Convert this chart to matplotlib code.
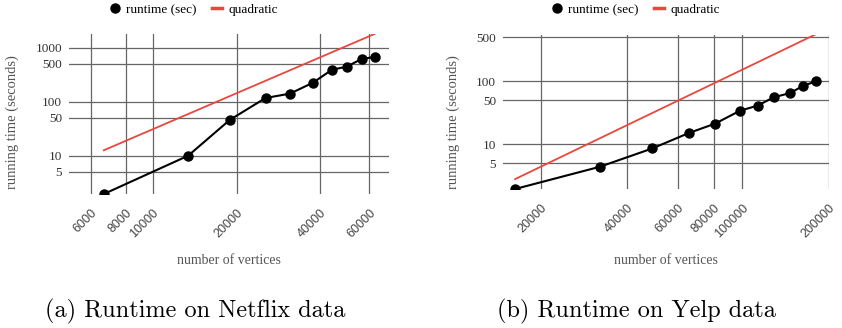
import numpy as np
import matplotlib
matplotlib.use('Agg')
import matplotlib.pyplot as plt
from matplotlib.lines import Line2D

# (a) Netflix
netflix_n = [6670, 13400, 18900, 25400, 31100, 37600, 44000, 49700, 56200, 62600]
netflix_t = [1.95, 10, 46, 117, 141, 225, 391, 445, 618, 672]
netflix_quad_n = [6670, 62600]
netflix_quad_t = [12.6, 1800]
netflix_xticks = [6000, 8000, 10000, 20000, 40000, 60000]
netflix_yticks = [5, 10, 50, 100, 500, 1000]

# (b) Yelp
yelp_n = [16300, 32100, 48800, 65300, 80400, 98400, 113000, 128600, 146900, 162100, 180300]
yelp_t = [1.95, 4.4, 8.6, 15.1, 21.2, 34.2, 41, 55.7, 65.2, 84.2, 100]
yelp_quad_n = [16300, 180300]
yelp_quad_t = [2.8, 560]
yelp_xticks = [20000, 40000, 60000, 80000, 100000, 200000]
yelp_yticks = [5, 10, 50, 100, 500]

red = '#e8473d'
grid_c = '#666666'
serif = 'Liberation Serif'
sans = 'Liberation Sans'

W, H = 842, 328
fig = plt.figure(figsize=(W / 100, H / 100), dpi=100)


def px_axes(x0, y0, x1, y1):
    return fig.add_axes([x0 / W, 1 - y1 / H, (x1 - x0) / W, (y1 - y0) / H])


def draw(ax, n, t, qn, qt, xticks, yticks, xlim, ylim):
    ax.set_xscale('log')
    ax.set_yscale('log')
    ax.plot(qn, qt, color=red, lw=1.3, zorder=3)
    ax.plot(n, t, color='black', lw=1.5, marker='o', ms=6.5, zorder=4)
    ax.set_xlim(*xlim)
    ax.set_ylim(*ylim)
    ax.xaxis.set_minor_locator(matplotlib.ticker.NullLocator())
    ax.yaxis.set_minor_locator(matplotlib.ticker.NullLocator())
    ax.set_xticks(xticks)
    ax.set_xticklabels([str(v) for v in xticks], rotation=45, ha='right',
                       va='top', rotation_mode='anchor', fontfamily=sans,
                       fontsize=9, color='#444444')
    ax.set_yticks(yticks)
    ax.set_yticklabels([str(v) for v in yticks], fontfamily=serif,
                       fontsize=9.5, color='#333333')
    ax.tick_params(length=0, axis='x', pad=9)
    ax.tick_params(length=0, axis='y', pad=5)
    ax.grid(True, color=grid_c, lw=0.9)
    ax.set_axisbelow(True)
    for s in ax.spines.values():
        s.set_visible(False)


ax1 = px_axes(69, 34.3, 389, 194)
draw(ax1, netflix_n, netflix_t, netflix_quad_n, netflix_quad_t,
     netflix_xticks, netflix_yticks, (5000, 70500), (1.95, 1770))
ax2 = px_axes(503, 35, 829, 189)
draw(ax2, yelp_n, yelp_t, yelp_quad_n, yelp_quad_t,
     yelp_xticks, yelp_yticks, (14800, 200000), (1.95, 543))

handles = [Line2D([], [], color='black', marker='o', ls='none', ms=6.5),
           Line2D([], [], color=red, lw=2.5)]
labels = ['runtime (sec)', 'quadratic']
for cx in [194, 636]:
    fig.legend(handles, labels, loc='center', bbox_to_anchor=(cx / W, 1 - 10 / H),
               ncol=2, frameon=False, prop={'family': serif, 'size': 9.5},
               handlelength=0.7, handletextpad=0.5, columnspacing=1.2)

for cy_x, cx in [(12, 229), (453, 666)]:
    fig.text(cy_x / W, 1 - 122 / H, 'running time (seconds)', rotation=90,
             ha='center', va='center', fontfamily=serif, fontsize=10.5, color='#555555')
    fig.text(cx / W, 1 - 260 / H, 'number of vertices', ha='center', va='center',
             fontfamily=serif, fontsize=10, color='#555555')

fig.text(195 / W, 1 - 311 / H, '(a) Runtime on Netflix data', ha='center', va='center',
         fontfamily='cmr10', fontsize=17.5)
fig.text(636 / W, 1 - 311 / H, '(b) Runtime on Yelp data', ha='center', va='center',
         fontfamily='cmr10', fontsize=17.5)

fig.savefig('out.png', dpi=100)
